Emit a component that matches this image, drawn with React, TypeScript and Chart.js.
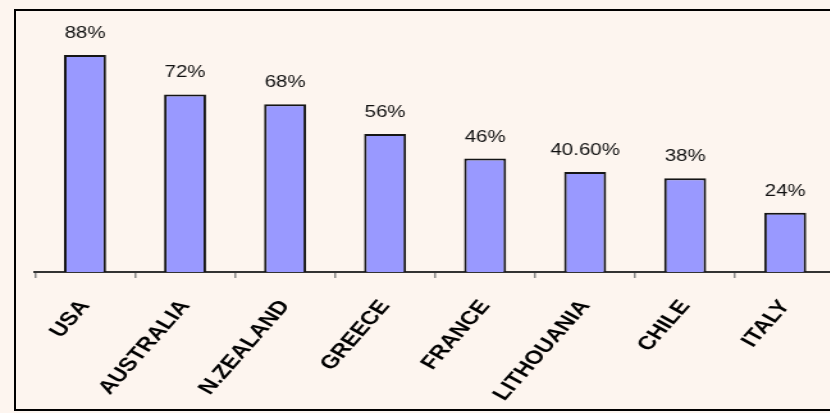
import React, { useEffect, useRef } from "react";
import { Chart, registerables } from "chart.js";

Chart.register(...registerables);

// Countries along the x axis and their share (%)
const countries = ["USA", "AUSTRALIA", "N.ZEALAND", "GREECE", "FRANCE", "LITHOUANIA", "CHILE", "ITALY"];
const shares = [88, 72, 68, 56, 46, 40.6, 38, 24];

// The canvas is drawn at a narrower buffer width and widened with CSS
const STRETCH = 1.28;
const BUF_W = 660;
const BUF_H = 413;

const formatShare = (v: number) => (Number.isInteger(v) ? `${v}%` : `${v.toFixed(2)}%`);

const valueLabels = {
  id: "valueLabels",
  afterDatasetsDraw(chart: any) {
    const ctx = chart.ctx;
    const meta = chart.getDatasetMeta(0);
    const data = chart.data.datasets[0].data as number[];
    ctx.save();
    ctx.font = '16px "Liberation Sans", Arial, sans-serif';
    ctx.fillStyle = "#111";
    ctx.textAlign = "center";
    ctx.textBaseline = "alphabetic";
    meta.data.forEach((bar: any, i: number) => {
      ctx.fillText(formatShare(data[i]), bar.x, bar.y - 17);
    });
    ctx.restore();
  },
};

export default function App() {
  const canvasRef = useRef<HTMLCanvasElement | null>(null);

  useEffect(() => {
    if (!canvasRef.current) return;
    const chart = new Chart(canvasRef.current, {
      type: "bar",
      data: {
        labels: countries,
        datasets: [
          {
            data: shares,
            backgroundColor: "#9999ff",
            borderColor: "#151515",
            borderWidth: 2,
            borderSkipped: "bottom",
            barPercentage: 0.42,
            categoryPercentage: 1,
          },
        ],
      },
      options: {
        responsive: false,
        animation: false,
        layout: { padding: { left: 35 / STRETCH, right: BUF_W - 835 / STRETCH, top: 25.4, bottom: 0 } },
        plugins: { legend: { display: false }, tooltip: { enabled: false } },
        scales: {
          x: {
            afterFit: (scale: any) => {
              scale.height = BUF_H - 272;
            },
            border: { display: true, color: "#333", width: 2 },
            grid: {
              display: true,
              drawOnChartArea: false,
              drawTicks: true,
              tickLength: 6,
              tickColor: "#888",
              lineWidth: 1.5,
              offset: true,
            },
            ticks: {
              autoSkip: false,
              minRotation: 55,
              maxRotation: 55,
              padding: 18,
              color: "#000",
              font: { family: '"Liberation Sans", Arial, sans-serif', size: 19, weight: "bold" },
            },
          },
          y: { display: false, min: 0, max: 100 },
        },
      },
      plugins: [valueLabels],
    });
    return () => chart.destroy();
  }, []);

  return (
    <div
      style={{
        position: "fixed",
        left: 0,
        top: 0,
        width: 830,
        height: 413,
        overflow: "hidden",
        background: "#fdf5ef",
      }}
    >
      <div
        style={{
          position: "absolute",
          left: 14,
          top: 9,
          width: 840,
          height: 398,
          border: "2px solid #000",
          borderRight: "none",
        }}
      />
      <canvas
        ref={canvasRef}
        width={BUF_W}
        height={BUF_H}
        style={{
          position: "absolute",
          left: 0,
          top: 0,
          display: "block",
          width: `${BUF_W * STRETCH}px`,
          height: `${BUF_H}px`,
        }}
      />
    </div>
  );
}
